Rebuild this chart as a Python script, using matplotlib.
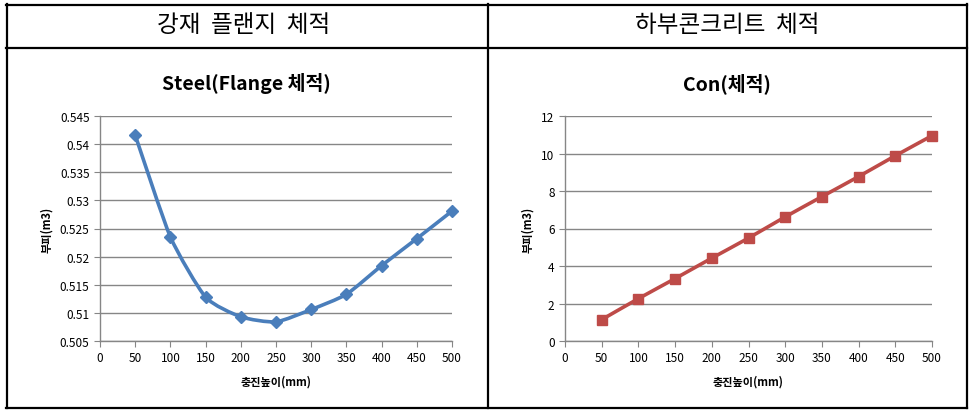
import matplotlib
matplotlib.use('Agg')
import matplotlib.pyplot as plt
from matplotlib.lines import Line2D
from matplotlib.path import Path
from matplotlib.patches import PathPatch
import numpy as np

# data
heights = [50, 100, 150, 200, 250, 300, 350, 400, 450, 500]
steel_vol = [0.5416, 0.5235, 0.5128, 0.5093, 0.5084, 0.5106, 0.5133, 0.5184, 0.5232, 0.5281]
con_vol = [1.14, 2.26, 3.33, 4.42, 5.49, 6.62, 7.70, 8.77, 9.88, 10.95]

header_left = '강재  플랜지  체적'
header_right = '하부콘크리트  체적'
title_left = 'Steel(Flange 체적)'
title_right = 'Con(체적)'
xlabel = '충진높이(mm)'
ylabel = '부피(m3)'

steel_ticks = [0.505, 0.51, 0.515, 0.52, 0.525, 0.53, 0.535, 0.54, 0.545]
steel_ticklabels = ['0.505', '0.51', '0.515', '0.52', '0.525', '0.53', '0.535', '0.54', '0.545']
con_ticks = [0, 2, 4, 6, 8, 10, 12]
x_ticks = [0, 50, 100, 150, 200, 250, 300, 350, 400, 450, 500]

plt.rcParams['font.family'] = ['Noto Sans CJK KR', 'DejaVu Sans']

W, H = 976, 414
fig = plt.figure(figsize=(W / 100, H / 100), dpi=100)


def px(x0, y0, x1, y1):
    # pixel box -> figure fraction [left, bottom, width, height]
    return [x0 / W, 1 - y1 / H, (x1 - x0) / W, (y1 - y0) / H]


# table lines
def hline(y, x0, x1):
    fig.add_artist(Line2D([x0 / W, x1 / W], [1 - y / H, 1 - y / H], color='black', lw=1.6))


def vline(x, y0, y1):
    fig.add_artist(Line2D([x / W, x / W], [1 - y0 / H, 1 - y1 / H], color='black', lw=1.6))


hline(5.5, 6, 967)
hline(48.5, 6, 967)
hline(409, 6, 967)
vline(6.5, 5, 409)
vline(487.5, 5, 409)
vline(966.5, 5, 409)

fig.text(244 / W, 1 - 26 / H, header_left, ha='center', va='center', fontsize=17, fontweight='light')
fig.text(727 / W, 1 - 26 / H, header_right, ha='center', va='center', fontsize=17, fontweight='light')


def smooth_line(ax, xs, ys, color):
    # Excel-style smoothed line, drawn as bezier segments through the points
    pts = np.column_stack([xs, ys]).astype(float)
    verts = [pts[0]]
    codes = [Path.MOVETO]
    n = len(pts)
    k = 10.0
    for i in range(n - 1):
        p0 = pts[i - 1] if i > 0 else pts[i]
        p1 = pts[i]
        p2 = pts[i + 1]
        p3 = pts[i + 2] if i + 2 < n else pts[i + 1]
        c1 = p1 + (p2 - p0) / k
        c2 = p2 - (p3 - p1) / k
        verts += [c1, c2, p2]
        codes += [Path.CURVE4] * 3
    ax.add_patch(PathPatch(Path(verts, codes), fill=False, edgecolor=color, lw=2.6,
                           capstyle='round', joinstyle='round', zorder=3))


def style_axes(ax):
    for s in ['top', 'right']:
        ax.spines[s].set_visible(False)
    for s in ['left', 'bottom']:
        ax.spines[s].set_color('#868686')
        ax.spines[s].set_linewidth(1)
    ax.yaxis.grid(True, color='#868686', lw=1)
    ax.set_axisbelow(True)
    ax.tick_params(axis='both', colors='#868686', labelcolor='black', labelsize=8.5,
                   length=4, direction='out')
    ax.set_xlim(0, 500)
    ax.set_xticks(x_ticks)
    ax.set_xlabel(xlabel, fontsize=8, fontweight='bold', labelpad=7)
    ax.set_ylabel(ylabel, fontsize=8, fontweight='bold', labelpad=5)


# left chart
ax1 = fig.add_axes(px(100, 117, 452, 342))
smooth_line(ax1, heights, steel_vol, '#4A7EBB')
ax1.plot(heights, steel_vol, linestyle='none', marker='D', markersize=6,
         color='#4A7EBB', zorder=4, clip_on=False)
ax1.set_ylim(0.505, 0.545)
ax1.set_yticks(steel_ticks)
ax1.set_yticklabels(steel_ticklabels)
style_axes(ax1)
fig.text(246 / W, 1 - 84 / H, title_left, ha='center', va='center', fontsize=14, fontweight='bold')

# right chart
ax2 = fig.add_axes(px(565, 117, 932, 342))
smooth_line(ax2, heights, con_vol, '#BE4B48')
ax2.plot(heights, con_vol, linestyle='none', marker='s', markersize=7,
         color='#BE4B48', zorder=4, clip_on=False)
ax2.set_ylim(0, 12)
ax2.set_yticks(con_ticks)
style_axes(ax2)
fig.text(727 / W, 1 - 84 / H, title_right, ha='center', va='center', fontsize=14, fontweight='bold')

fig.savefig('out.png', dpi=100, facecolor='white')
